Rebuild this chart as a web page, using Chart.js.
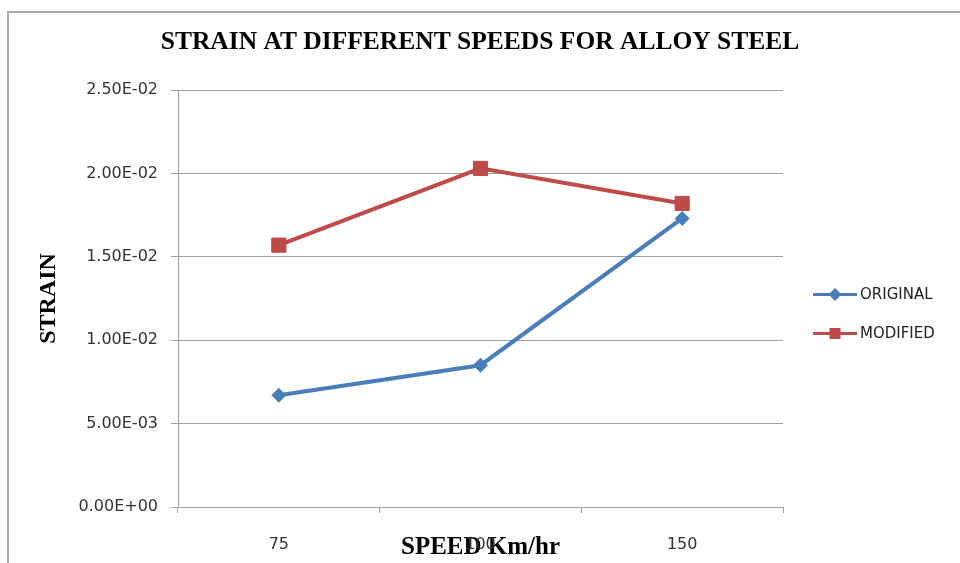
<!DOCTYPE html>
<html>
<head>
<meta charset="utf-8">
<title>Strain at different speeds for alloy steel</title>
<script src="https://cdn.jsdelivr.net/npm/chart.js@4/dist/chart.umd.min.js"></script>
<style>
  html, body { margin: 0; padding: 0; background: #ffffff; }
  #wrap { width: 960px; height: 563px; position: relative; }
</style>
</head>
<body>
<div id="wrap"><canvas id="chart" width="960" height="563"></canvas></div>
<script>
// Speeds (km/hr) on the x axis
const speeds = ['75', '100', '150'];
// Measured strain per speed
const originalStrain = [0.0067, 0.0085, 0.0173];
const modifiedStrain = [0.0157, 0.0203, 0.0182];
// Value-axis ticks
const strainTicks = [0, 0.005, 0.010, 0.015, 0.020, 0.025];

const BLUE = '#4A7EBB';
const RED = '#BE4B48';
const GRID = '#a0a0a0';

// Scientific notation with a two-digit exponent, e.g. 2.50E-02
function sci(v) {
  if (Math.abs(v) < 1e-12) return '0.00E+00';
  const parts = v.toExponential(2).split('e');
  const n = parseInt(parts[1], 10);
  return parts[0] + 'E' + (n < 0 ? '-' : '+') + String(Math.abs(n)).padStart(2, '0');
}

// Outer frame of the chart object
const framePlugin = {
  id: 'frame',
  beforeDraw(chart) {
    const ctx = chart.ctx;
    ctx.save();
    ctx.fillStyle = '#ffffff';
    ctx.fillRect(0, 0, chart.width, chart.height);
    ctx.strokeStyle = '#aaaaaa';
    ctx.lineWidth = 2;
    ctx.beginPath();
    ctx.moveTo(8, chart.height);
    ctx.lineTo(8, 12);
    ctx.lineTo(chart.width, 12);
    ctx.stroke();
    ctx.restore();
  }
};

// Legend with a line segment and the series marker, as in a spreadsheet chart
const lineLegendPlugin = {
  id: 'lineLegend',
  afterDraw(chart) {
    const ctx = chart.ctx;
    const area = chart.chartArea;
    const mid = (area.top + area.bottom) / 2;
    const x0 = area.right + 30, x1 = area.right + 74, tx = area.right + 77;
    chart.data.datasets.forEach((ds, i) => {
      const y = mid - 4 + i * 39;
      const cx = (x0 + x1) / 2;
      ctx.save();
      ctx.strokeStyle = ds.borderColor;
      ctx.lineWidth = 3;
      ctx.beginPath();
      ctx.moveTo(x0, y);
      ctx.lineTo(x1, y);
      ctx.stroke();
      ctx.fillStyle = ds.borderColor;
      ctx.beginPath();
      if (ds.pointStyle === 'rectRot') {
        const r = 6.5;
        ctx.moveTo(cx - r, y);
        ctx.lineTo(cx, y - r);
        ctx.lineTo(cx + r, y);
        ctx.lineTo(cx, y + r);
        ctx.closePath();
      } else {
        const h = 5.5;
        ctx.rect(cx - h, y - h, 2 * h, 2 * h);
      }
      ctx.fill();
      ctx.fillStyle = '#222222';
      ctx.font = '15px "DejaVu Sans"';
      ctx.textAlign = 'left';
      ctx.textBaseline = 'middle';
      ctx.fillText(ds.label, tx, y + 1);
      ctx.restore();
    });
  }
};

new Chart(document.getElementById('chart'), {
  type: 'line',
  data: {
    labels: speeds,
    datasets: [
      {
        label: 'ORIGINAL',
        data: originalStrain,
        borderColor: BLUE,
        backgroundColor: BLUE,
        borderWidth: 4,
        pointStyle: 'rectRot',
        pointRadius: 7.5,
        pointBorderWidth: 0,
        pointBackgroundColor: BLUE,
        tension: 0,
        fill: false
      },
      {
        label: 'MODIFIED',
        data: modifiedStrain,
        borderColor: RED,
        backgroundColor: RED,
        borderWidth: 4,
        pointStyle: 'rect',
        pointRadius: 10,
        pointBorderWidth: 1,
        pointBorderColor: RED,
        pointBackgroundColor: RED,
        tension: 0,
        fill: false
      }
    ]
  },
  options: {
    responsive: false,
    animation: false,
    layout: { padding: 0 },
    plugins: {
      legend: { display: false },
      tooltip: { enabled: false },
      title: {
        display: true,
        text: 'STRAIN AT DIFFERENT SPEEDS FOR ALLOY STEEL',
        color: '#000000',
        font: { family: '"Liberation Serif", serif', size: 25.5, weight: 'bold' },
        padding: { top: 27.5, bottom: 31.9 }
      }
    },
    scales: {
      x: {
        type: 'category',
        offset: true,
        grid: {
          display: true,
          offset: true,
          drawOnChartArea: false,
          drawTicks: true,
          tickLength: 6,
          color: GRID
        },
        border: { display: true, color: GRID, width: 1 },
        ticks: {
          color: '#333333',
          font: { family: '"DejaVu Sans", sans-serif', size: 16 },
          padding: 22,
          maxRotation: 0
        },
        title: {
          display: true,
          text: 'SPEED Km/hr',
          color: '#000000',
          font: { family: '"Liberation Serif", serif', size: 25, weight: 'bold' },
          padding: { top: 0, bottom: 0 }
        },
        afterFit(scale) { scale.height = 56; }
      },
      y: {
        type: 'linear',
        min: strainTicks[0],
        max: strainTicks[strainTicks.length - 1],
        afterBuildTicks(scale) {
          scale.ticks = strainTicks.map(v => ({ value: v }));
        },
        grid: {
          color: GRID,
          lineWidth: 1,
          drawTicks: true,
          tickLength: 7
        },
        border: { display: true, color: GRID, width: 1 },
        ticks: {
          color: '#333333',
          font: { family: '"DejaVu Sans", sans-serif', size: 16 },
          padding: 13,
          callback: v => sci(v)
        },
        title: {
          display: true,
          text: 'STRAIN',
          color: '#000000',
          font: { family: '"Liberation Serif", serif', size: 24, weight: 'bold' },
          padding: { top: 34, bottom: 0 }
        },
        afterFit(scale) { scale.width = 178; }
      },
      // Empty band on the right that holds the legend
      legendBand: {
        type: 'linear',
        position: 'right',
        display: true,
        grid: { display: false, drawTicks: false },
        border: { display: false },
        ticks: { display: false },
        afterFit(scale) { scale.width = 177; }
      }
    }
  },
  plugins: [framePlugin, lineLegendPlugin]
});
</script>
</body>
</html>
